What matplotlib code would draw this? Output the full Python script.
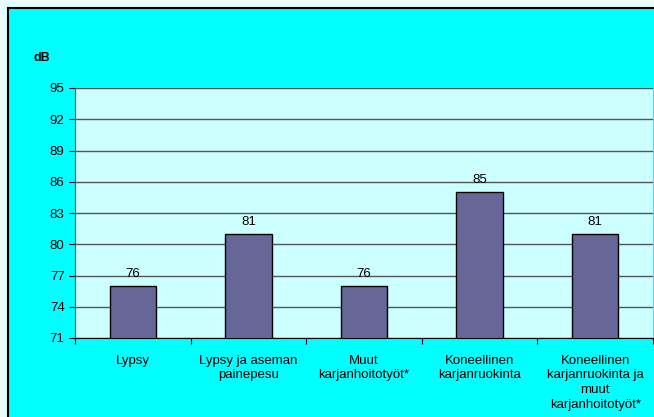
import matplotlib.pyplot as plt
from matplotlib.patches import Rectangle

categories = ["Lypsy", "Lypsy ja aseman\npainepesu", "Muut\nkarjanhoitotyöt*",
              "Koneellinen\nkarjanruokinta",
              "Koneellinen\nkarjanruokinta ja\nmuut\nkarjanhoitotyöt*"]
values = [76, 81, 76, 85, 81]
yticks = [71, 74, 77, 80, 83, 86, 89, 92, 95]

plt.rcParams['font.family'] = ['Liberation Sans', 'DejaVu Sans']

fig = plt.figure(figsize=(6.54, 4.17), dpi=100)
fig.patch.set_facecolor('#e8ffff')

# chart area with border (runs off the right and bottom edge)
fig.patches.append(Rectangle((8 / 654, -0.1), 1.2, 1.1 - 8 / 417,
                             transform=fig.transFigure, facecolor='#00ffff',
                             edgecolor='black', linewidth=1.5, zorder=-5))

ax = fig.add_axes([75 / 654, 79 / 417, 578 / 654, 250 / 417])
ax.set_facecolor('#ccffff')

x = range(len(categories))
bars = ax.bar(x, values, width=0.4, color='#666699', edgecolor='black',
              linewidth=1, zorder=3, bottom=0)

for xi, v in zip(x, values):
    ax.text(xi, v + 0.6, str(v), ha='center', va='bottom', fontsize=9.5)

ax.set_ylim(71, 95)
ax.set_xlim(-0.5, len(categories) - 0.5)
ax.set_yticks(yticks)
ax.yaxis.grid(True, color='#555555', linewidth=1, zorder=0)
ax.set_axisbelow(True)

ax.set_xticks([i + 0.5 for i in range(-1, len(categories))], minor=False)
ax.set_xticklabels([])
ax.set_xticks(list(x), minor=True)
ax.set_xticklabels(categories, minor=True, fontsize=9.5, va='top', linespacing=1.3)
ax.tick_params(axis='x', which='minor', length=0, pad=12)
ax.tick_params(axis='x', which='major', length=4, direction='out')
ax.tick_params(axis='y', labelsize=9.5, length=4)

for s in ['top', 'right']:
    ax.spines[s].set_visible(False)
ax.spines['left'].set_color('#555555')
ax.spines['bottom'].set_color('black')

fig.text(34 / 654, 1 - 58 / 417, "dB", fontsize=9, fontweight='bold',
         ha='left', va='center')

fig.savefig("out.png", dpi=100, facecolor=fig.get_facecolor())
